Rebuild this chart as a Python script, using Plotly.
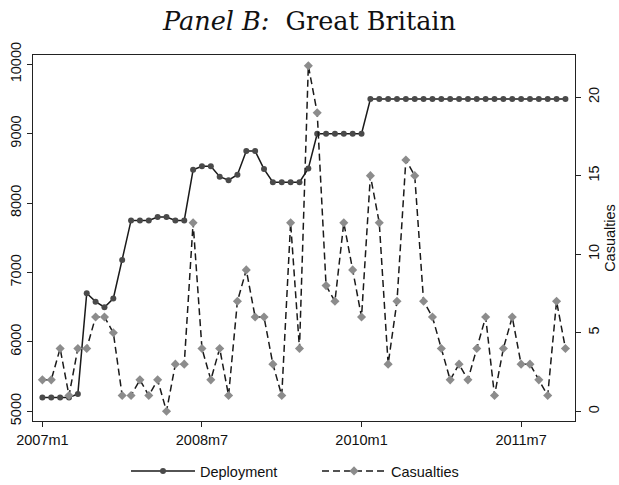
import plotly.graph_objects as go

# Monthly periods, 2007m1 .. 2011m12
months = [f"{2007 + i // 12}m{i % 12 + 1}" for i in range(60)]

deployment = [
    5200, 5200, 5200, 5200, 5250, 6700, 6580, 6500, 6625, 7180,
    7750, 7750, 7750, 7800, 7800, 7750, 7750, 8480, 8530, 8530,
    8380, 8330, 8410, 8750, 8750, 8490, 8300, 8300, 8300, 8300,
    8500, 9000, 9000, 9000, 9000, 9000, 9000, 9500, 9500, 9500,
    9500, 9500, 9500, 9500, 9500, 9500, 9500, 9500, 9500, 9500,
    9500, 9500, 9500, 9500, 9500, 9500, 9500, 9500, 9500, 9500,
]

casualties = [
    2, 2, 4, 1, 4, 4, 6, 6, 5, 1,
    1, 2, 1, 2, 0, 3, 3, 12, 4, 2,
    4, 1, 7, 9, 6, 6, 3, 1, 12, 4,
    22, 19, 8, 7, 12, 9, 6, 15, 12, 3,
    7, 16, 15, 7, 6, 4, 2, 3, 2, 4,
    6, 1, 4, 6, 3, 3, 2, 1, 7, 4,
]

x_tick_labels = ["2007m1", "2008m7", "2010m1", "2011m7"]
left_ticks = [5000, 6000, 7000, 8000, 9000, 10000]
right_ticks = [0, 5, 10, 15, 20]

x = list(range(len(months)))
x_tick_pos = [months.index(t) for t in x_tick_labels]

SANS = "Liberation Sans, Arial, sans-serif"
SERIF = "DejaVu Serif, Liberation Serif, serif"

fig = go.Figure()

fig.add_trace(go.Scatter(
    x=x, y=deployment, name="Deployment", mode="lines+markers",
    line=dict(color="#1a1a1a", width=1.5),
    marker=dict(symbol="circle", size=6, color="#4a4a4a"),
    yaxis="y",
))

fig.add_trace(go.Scatter(
    x=x, y=casualties, name="Casualties", mode="lines+markers",
    line=dict(color="#1a1a1a", width=1.5, dash="7px,4px"),
    marker=dict(symbol="diamond", size=7, color="#8c8c8c"),
    yaxis="y2",
))

axis_common = dict(
    showgrid=False, zeroline=False, showline=True, linecolor="#222",
    linewidth=1.3, ticks="outside", ticklen=5, tickwidth=1.2,
    tickcolor="#222", tickfont=dict(family=SANS, size=14.5, color="#111"),
    automargin=False,
)

fig.update_layout(
    width=619, height=485,
    margin=dict(l=33, r=44, t=55, b=64),
    paper_bgcolor="white", plot_bgcolor="white",
    title=dict(
        text="<i>Panel B:</i>  Great Britain",
        x=0.5, xanchor="center", y=1 - 21 / 485, yanchor="middle",
        font=dict(family=SERIF, size=25.5, color="#111"),
    ),
    xaxis=dict(
        range=[-1.06, 60.08], tickvals=x_tick_pos, ticktext=x_tick_labels,
        mirror=True, **axis_common,
    ),
    yaxis=dict(
        range=[4860, 10134], tickvals=left_ticks,
        ticktext=[str(v) for v in left_ticks], tickangle=-90,
        **axis_common,
    ),
    yaxis2=dict(
        range=[-0.62, 22.68], tickvals=right_ticks,
        ticktext=[str(v) for v in right_ticks], tickangle=-90,
        overlaying="y", side="right",
        title=dict(text="Casualties", font=dict(family=SANS, size=14.5, color="#111"), standoff=2),
        **axis_common,
    ),
    legend=dict(
        orientation="h", x=0.524, xanchor="center",
        yref="container", y=1 - 471 / 485, yanchor="middle",
        font=dict(family=SANS, size=14.5, color="#111"),
        itemwidth=64, entrywidth=112, traceorder="normal",
    ),
    showlegend=True,
)

fig.write_html("out.html")
